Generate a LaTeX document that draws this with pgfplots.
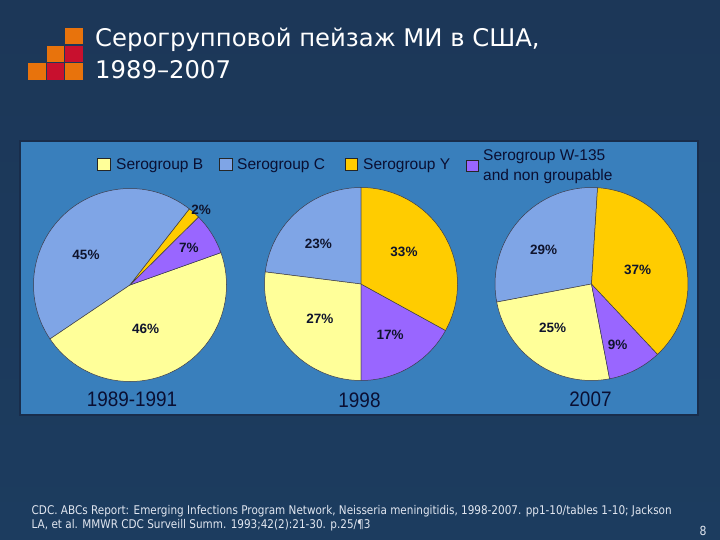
\documentclass[border=0pt]{standalone}
\usepackage{fontspec}
\usepackage{pgfplots}
\usepackage{pgfplotstable}
\pgfplotsset{compat=1.18}

\setmainfont{Liberation Sans}
\newfontfamily\titlefont{DejaVu Sans}
\newfontfamily\notefont[FakeStretch=0.87]{DejaVu Sans}
\newfontfamily\yearfont[FakeStretch=0.9]{Liberation Sans}

\definecolor{bgtop}{RGB}{28,55,88}
\definecolor{bgmid}{RGB}{42,92,138}
\definecolor{bgbot}{RGB}{28,60,95}
\definecolor{panel}{RGB}{57,127,188}
\definecolor{panelframe}{RGB}{25,45,75}
\definecolor{serB}{RGB}{255,255,153}
\definecolor{serC}{RGB}{127,165,230}
\definecolor{serY}{RGB}{255,204,0}
\definecolor{serW}{RGB}{153,102,255}
\definecolor{edge}{RGB}{60,60,75}
\definecolor{pctc}{RGB}{15,20,45}
\definecolor{legc}{RGB}{10,15,50}
\definecolor{footc}{RGB}{225,230,240}
\definecolor{logoO}{RGB}{232,115,12}
\definecolor{logoR}{RGB}{200,16,46}

\newcommand\pctfont{\bfseries\fontsize{13.5}{14}\selectfont}
\def\R{96.5pt}

% share in %, label radius (fraction of R), label angle nudge (deg)
% rows go counter-clockwise from the start angle: C, B, W, Y
\pgfplotstableread{
group val lr la
C 45 0.55 13
B 46 0.48 -7
W 7 0.72 0
Y 2 1.07 -2
}\pieA
\pgfplotstableread{
group val lr la
C 23 0.61 5
B 27 0.56 -1
W 17 0.61 -1
Y 33 0.555 6
}\pieB
\pgfplotstableread{
group val lr la
C 29 0.61 6
B 25 0.61 -7
W 9 0.69 -4
Y 37 0.50 -3
}\pieC

% #1 table, #2 start angle
\newcommand\piechart[2]{%
  \pgfplotstablegetrowsof{#1}%
  \pgfmathtruncatemacro\lastrow{\pgfplotsretval-1}%
  \def\angA{#2}%
  \pgfplotsforeachungrouped \rowi in {0,...,\lastrow}{%
    \pgfplotstablegetelem{\rowi}{val}\of{#1}\let\pval\pgfplotsretval
    \pgfplotstablegetelem{\rowi}{group}\of{#1}\let\grp\pgfplotsretval
    \pgfmathsetmacro\angB{\angA+3.6*\pval}%
    \pgfmathsetmacro\xs{cos(\angA)}%
    \pgfmathsetmacro\ys{sin(\angA)}%
    \edef\temp{\noexpand\filldraw[fill=ser\grp, draw=edge, line width=0.5pt]
      (axis cs:0,0) -- (axis cs:\xs,\ys) arc[start angle=\angA, end angle=\angB, radius=\R] -- cycle;}%
    \temp
    \let\angA\angB
  }%
  \def\angA{#2}%
  \pgfplotsforeachungrouped \rowi in {0,...,\lastrow}{%
    \pgfplotstablegetelem{\rowi}{val}\of{#1}\let\pval\pgfplotsretval
    \pgfplotstablegetelem{\rowi}{lr}\of{#1}\let\labr\pgfplotsretval
    \pgfplotstablegetelem{\rowi}{la}\of{#1}\let\laba\pgfplotsretval
    \pgfmathsetmacro\angB{\angA+3.6*\pval}%
    \pgfmathsetmacro\angM{(\angA+\angB)/2+\laba}%
    \pgfmathsetmacro\lx{\labr*cos(\angM)}%
    \pgfmathsetmacro\ly{\labr*sin(\angM)}%
    \edef\temp{\noexpand\node[font=\noexpand\pctfont, text=pctc, inner sep=0pt]
      at (axis cs:\lx,\ly) {\pval\noexpand\%};}%
    \temp
    \let\angA\angB
  }%
}

\pgfplotsset{piebox/.style={anchor=center, x=96.5pt, y=96.5pt,
  xmin=-1.15, xmax=1.15, ymin=-1.15, ymax=1.15, hide axis, clip=false}}

\begin{document}
\begin{tikzpicture}
\begin{scope}[x=1pt, y=-1pt]
  \shade[top color=bgtop, middle color=bgmid, bottom color=bgbot] (0,0) rectangle (720,540);
  % logo
  \fill[logoO] (65,28.3) rectangle ++(17.5,16);
  \fill[logoO] (46.7,45.7) rectangle ++(17.5,16);
  \fill[logoR] (65,45.7) rectangle ++(17.5,16);
  \fill[logoO] (28.3,63.3) rectangle ++(17.5,16.5);
  \fill[logoR] (46.7,63.3) rectangle ++(17.5,16.5);
  \fill[logoO] (65,63.3) rectangle ++(17.5,16.5);
  % title
  \node[anchor=base west, inner sep=0pt, text=white, font=\titlefont\fontsize{24.3}{24}\selectfont]
    at (95,46.7) {Серогрупповой пейзаж МИ в США,};
  \node[anchor=base west, inner sep=0pt, text=white, font=\titlefont\fontsize{24.3}{24}\selectfont]
    at (95,78.3) {1989–2007};
  % panel
  \filldraw[fill=panel, draw=panelframe, line width=2pt] (19.5,141) rectangle (698,415);
  % legend
  \begin{scope}[every node/.style={anchor=base west, inner sep=0pt, text=legc, font=\fontsize{15.5}{16}\selectfont}]
    \filldraw[fill=serB, draw=black!85, line width=0.6pt] (97,158) rectangle (110,170);
    \node at (116,169.7) {Serogroup B};
    \filldraw[fill=serC, draw=black!85, line width=0.6pt] (219,158) rectangle (232,170);
    \node at (237,169.7) {Serogroup C};
    \filldraw[fill=serY, draw=black!85, line width=0.6pt] (345,158) rectangle (357,170);
    \node at (363,169.7) {Serogroup Y};
    \filldraw[fill=serW, draw=black!85, line width=0.6pt] (466,160) rectangle (478,171);
    \node at (483,160.7) {Serogroup W-135};
    \node at (483,180.7) {and non groupable};
  \end{scope}
  % period labels
  \begin{scope}[every node/.style={inner sep=0pt, text=legc, font=\yearfont\fontsize{21}{21}\selectfont}]
    \node at (132,399) {1989-1991};
    \node at (359.5,400.5) {1998};
    \node at (590.5,399) {2007};
  \end{scope}
  % source
  \begin{scope}[every node/.style={anchor=base west, inner sep=0pt, text=footc, font=\notefont\fontsize{12}{12}\selectfont}]
    \node at (31.5,514) {CDC. ABCs Report: Emerging Infections Program Network, Neisseria meningitidis, 1998-2007. pp1-10/tables 1-10; Jackson};
    \node at (31.5,528.3) {LA, et al. MMWR CDC Surveill Summ. 1993;42(2):21-30. p.25/¶3};
    \node[anchor=center, font=\notefont\fontsize{12.5}{12}\selectfont] at (703,531) {8};
  \end{scope}
\end{scope}

\begin{axis}[piebox, at={(130pt,-285pt)}]
  \piechart{\pieA}{52}
\end{axis}
\begin{axis}[piebox, at={(361pt,-284pt)}]
  \piechart{\pieB}{90}
\end{axis}
\begin{axis}[piebox, at={(591.5pt,-284pt)}]
  \piechart{\pieC}{86.4}
\end{axis}

\pgfresetboundingbox
\path (0pt,0pt) rectangle (720pt,-540pt);
\end{tikzpicture}
\end{document}
